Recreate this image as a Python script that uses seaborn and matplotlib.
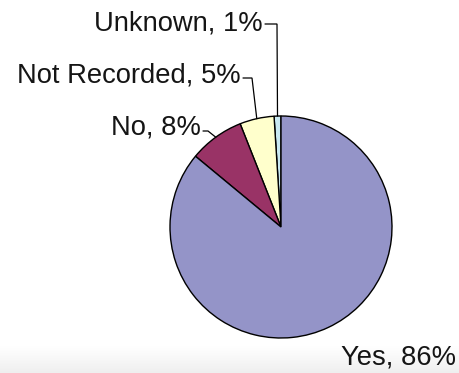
import numpy as np
import matplotlib
matplotlib.use("Agg")
import matplotlib.pyplot as plt
import seaborn as sns

# ---- data ----
categories = ["Unknown", "Not Recorded", "No", "Yes"]
percents = [1, 5, 8, 86]
colors = ["#C9E9F2", "#FFFFCC", "#993366", "#9494C8"]

sns.set_theme(style="white")
plt.rcParams["font.family"] = ["Liberation Sans", "DejaVu Sans"]

W, H = 460, 373
fig = plt.figure(figsize=(W / 100, H / 100), dpi=100)
fig.patch.set_facecolor("white")

# subtle grey gradient band at the bottom
bg = fig.add_axes([0, 0, 1, 1], zorder=0)
grad = np.linspace(0, 1, 50).reshape(-1, 1)
bg.imshow(grad, extent=(0, W, 0, 27), cmap=matplotlib.colors.LinearSegmentedColormap.from_list(
    "g", ["#EFEFEF", "#FFFFFF"]), aspect="auto", origin="lower")
bg.set_xlim(0, W)
bg.set_ylim(0, H)
bg.axis("off")

ax = fig.add_axes([0, 0, 1, 1], zorder=1)
ax.patch.set_alpha(0)
cx, cy, r = 281, H - 227, 111
wedges, _ = ax.pie(percents, colors=colors, startangle=90, counterclock=True,
                   center=(cx, cy), radius=r, frame=True,
                   wedgeprops=dict(edgecolor="black", linewidth=1.0))
ax.set_xlim(0, W)
ax.set_ylim(0, H)
ax.set_aspect("equal")
ax.axis("off")

fs = 19.7
tc = "#151515"
# label positions: (text right x, text center y, leader y, elbow x)
label_pos = {
    "Unknown": (263, H - 23, H - 24, 277),
    "Not Recorded": (241, H - 76, H - 78, 252),
    "No": (201, H - 128, H - 131, 208),
}
for w, cat, p in zip(wedges, categories, percents):
    txt = f"{cat}, {p}%"
    if cat == "Yes":
        ax.text(456, H - 357, txt, ha="right", va="center", fontsize=fs, color=tc)
        continue
    tx, ty, ly, ex = label_pos[cat]
    ang = np.deg2rad((w.theta1 + w.theta2) / 2)
    px, py = cx + r * np.cos(ang), cy + r * np.sin(ang)
    ax.text(tx, ty, txt, ha="right", va="center", fontsize=fs, color=tc)
    ax.plot([tx + 2, ex, px], [ly, ly, py], color="black", lw=0.9, solid_joinstyle="miter")

fig.savefig("out.png", dpi=100)
